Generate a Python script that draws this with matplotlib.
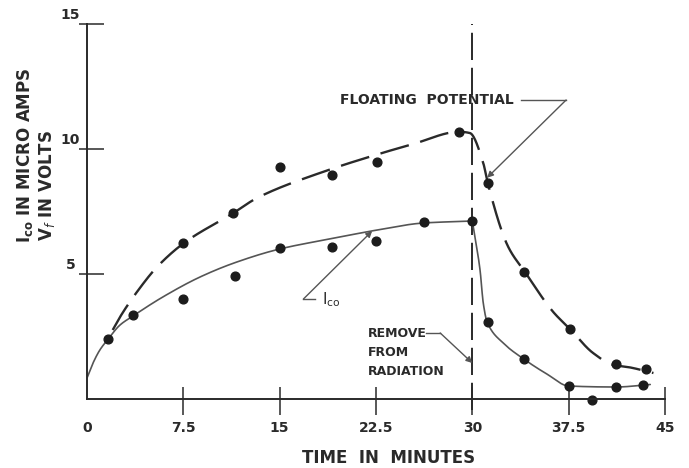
import numpy as np
import matplotlib
matplotlib.use("Agg")
import matplotlib.pyplot as plt

plt.rcParams['font.family'] = ['DejaVu Sans']
plt.rcParams['mathtext.fontset'] = 'dejavusans'

# ---- measured points -------------------------------------------------
ico_t = [1.65, 3.55, 7.5, 11.5, 15.0, 19.1, 22.5, 26.2, 30.0, 31.2, 34.0, 37.5, 39.3, 41.2, 43.3]
ico_ua = [2.4, 3.36, 4.0, 4.92, 6.04, 6.08, 6.32, 7.08, 7.12, 3.08, 1.6, 0.52, -0.05, 0.48, 0.56]

vf_t = [7.5, 11.4, 15.0, 19.1, 22.6, 29.0, 31.2, 34.0, 37.6, 41.2, 43.5]
vf_volts = [6.24, 7.44, 9.28, 8.96, 9.48, 10.68, 8.64, 5.08, 2.8, 1.4, 1.2]

# ---- hand-faired curves through the data (knots) ---------------------
ico_rise_t = [0.0, 0.47, 1.0, 1.65, 2.57, 3.58, 5.9, 8.8, 11.5, 15.0, 19.1, 22.6, 26.2, 30.0]
ico_rise_v = [0.84, 1.44, 1.96, 2.4, 2.96, 3.32, 4.08, 4.88, 5.45, 6.0, 6.42, 6.76, 7.04, 7.12]
ico_fall_t = [30.0, 30.2, 30.6, 30.85, 31.15, 32.4, 34.0, 35.8, 37.5, 41.2, 43.85]
ico_fall_v = [7.12, 6.5, 5.16, 3.84, 3.08, 2.24, 1.6, 1.0, 0.52, 0.48, 0.58]

vf_curve_t = [2.0, 2.57, 4.0, 5.45, 7.55, 11.4, 13.2, 18.4, 22.2, 25.4, 29.0, 29.8,
              30.85, 31.2, 32.8, 34.1, 36.3, 37.6, 39.4, 41.0, 42.1, 44.1]
vf_curve_v = [2.76, 3.28, 4.36, 5.28, 6.24, 7.44, 8.03, 9.09, 9.72, 10.2, 10.69, 10.64,
              9.44, 8.64, 6.08, 5.08, 3.48, 2.8, 1.84, 1.36, 1.28, 1.04]

removal_t = 30.0

x_ticks = [0, 7.5, 15, 22.5, 30, 37.5, 45]
x_tick_labels = ["0", "7.5", "15", "22.5", "30", "37.5", "45"]
y_ticks = [5, 10, 15]
y_tick_labels = ["5", "10", "15"]

INK = "#2a2a2a"
GREY = "#555555"


def pchip(x, y, num=1500):
    """Monotone piecewise cubic through the knots (Fritsch-Carlson)."""
    x = np.asarray(x, float)
    y = np.asarray(y, float)
    h = np.diff(x)
    d = np.diff(y) / h
    m = np.zeros_like(y)
    for k in range(1, len(x) - 1):
        if d[k - 1] * d[k] > 0:
            w1 = 2 * h[k] + h[k - 1]
            w2 = h[k] + 2 * h[k - 1]
            m[k] = (w1 + w2) / (w1 / d[k - 1] + w2 / d[k])
    m[0] = d[0]
    m[-1] = d[-1]
    xs = np.union1d(np.linspace(x[0], x[-1], num), x)
    idx = np.clip(np.searchsorted(x, xs, side="right") - 1, 0, len(h) - 1)
    t = (xs - x[idx]) / h[idx]
    h00 = 2 * t**3 - 3 * t**2 + 1
    h10 = t**3 - 2 * t**2 + t
    h01 = -2 * t**3 + 3 * t**2
    h11 = t**3 - t**2
    ys = h00 * y[idx] + h10 * h[idx] * m[idx] + h01 * y[idx + 1] + h11 * h[idx] * m[idx + 1]
    return xs, ys


fig = plt.figure(figsize=(6.89, 4.68), dpi=100)
ax = fig.add_axes([87 / 689, 69 / 468, 578 / 689, 375 / 468])
ax.set_xlim(0, 45)
ax.set_ylim(0, 15)

for side in ("top", "right"):
    ax.spines[side].set_visible(False)
for side in ("left", "bottom"):
    ax.spines[side].set_color(INK)
    ax.spines[side].set_linewidth(1.4)

# crossing ticks: inner part as major, outer part as minor at the same spots
ax.xaxis.remove_overlapping_locs = False
ax.yaxis.remove_overlapping_locs = False
ax.set_xticks(x_ticks[1:])
ax.set_xticks(x_ticks[1:], minor=True)
ax.set_yticks(y_ticks)
ax.set_yticks(y_ticks, minor=True)
ax.tick_params(axis="x", which="major", direction="in", length=8.6, width=1.1, color=INK,
               labelbottom=False)
ax.tick_params(axis="x", which="minor", direction="out", length=11.5, width=1.1, color=INK,
               labelbottom=False)
ax.tick_params(axis="y", which="major", direction="in", length=12.2, width=1.1, color=INK,
               labelleft=False)
ax.tick_params(axis="y", which="minor", direction="out", length=5.5, width=1.1, color=INK,
               labelleft=False)

for v, s in zip(x_ticks, x_tick_labels):
    ax.annotate(s, xy=(v, 0), xytext=(0, -29), textcoords="offset pixels",
                ha="center", va="center", fontsize=10, fontweight="bold", color=INK,
                annotation_clip=False)
for v, s in zip(y_ticks, y_tick_labels):
    ax.annotate(s, xy=(0, v), xytext=(-16.5, 2), textcoords="offset pixels",
                ha="center", va="bottom", fontsize=10, fontweight="bold", color=INK,
                annotation_clip=False)

# removal instant
vl = ax.axvline(removal_t, ymin=-0.03, ymax=1.0, color=INK, lw=1.4, clip_on=False)
vl.set_dashes((14.0, 4.0))

# faired curves
xs, ys = pchip(ico_rise_t, ico_rise_v)
ax.plot(xs, ys, color=GREY, lw=1.2, solid_capstyle="round")
xs, ys = pchip(ico_fall_t, ico_fall_v)
ax.plot(xs, ys, color=GREY, lw=1.2, solid_capstyle="round")
xs, ys = pchip(vf_curve_t, vf_curve_v)
dl, = ax.plot(xs, ys, color=INK, lw=1.7)
dl.set_dashes((12.5, 5.0))

# data points
ax.plot(ico_t, ico_ua, "o", color="#1c1c1c", ms=6.3, clip_on=False)
ax.plot(vf_t, vf_volts, "o", color="#1c1c1c", ms=6.3, clip_on=False)

# annotations
arrow = dict(arrowstyle="-|>", color=GREY, lw=1.0, mutation_scale=9,
             shrinkA=0, shrinkB=0)

ax.text(19.7, 11.96, "FLOATING  POTENTIAL", fontsize=10, fontweight="bold",
        color=INK, ha="left", va="center")
ax.plot([33.75, 37.3], [11.96, 11.96], color=GREY, lw=1.0)
ax.annotate("", xy=(31.15, 8.85), xytext=(37.3, 11.96), arrowprops=arrow)

ax.text(18.3, 3.96, r"I$\mathregular{_{co}}$", fontsize=11, color=INK,
        ha="left", va="center")
ax.plot([17.75, 16.85], [4.0, 4.0], color=GREY, lw=1.0)
ax.annotate("", xy=(22.2, 6.72), xytext=(16.85, 4.0), arrowprops=arrow)

ax.text(21.9, 2.62, "REMOVE", fontsize=9, fontweight="bold", color=INK,
        ha="left", va="center")
ax.text(21.9, 1.86, "FROM", fontsize=9, fontweight="bold", color=INK,
        ha="left", va="center")
ax.text(21.9, 1.10, "RADIATION", fontsize=9, fontweight="bold", color=INK,
        ha="left", va="center")
ax.plot([26.4, 27.5], [2.64, 2.64], color=GREY, lw=1.0)
ax.annotate("", xy=(removal_t, 1.44), xytext=(27.5, 2.64), arrowprops=arrow)

# axis titles
fig.text(389 / 689, 1 - 458 / 468, "TIME  IN  MINUTES", fontsize=12, fontweight="bold",
         color=INK, ha="center", va="center")
fig.text(25 / 689, 1 - 243 / 468, r"I$\mathregular{_{co}}$ IN MICRO AMPS", fontsize=12,
         fontweight="bold", color=INK, rotation=90, ha="center", va="bottom")
fig.text(47 / 689, 1 - 241 / 468, r"V$_{\mathit{f}}$ IN VOLTS", fontsize=12,
         fontweight="bold", color=INK, rotation=90, ha="center", va="bottom")

fig.savefig("out.png", dpi=100, facecolor="white")
